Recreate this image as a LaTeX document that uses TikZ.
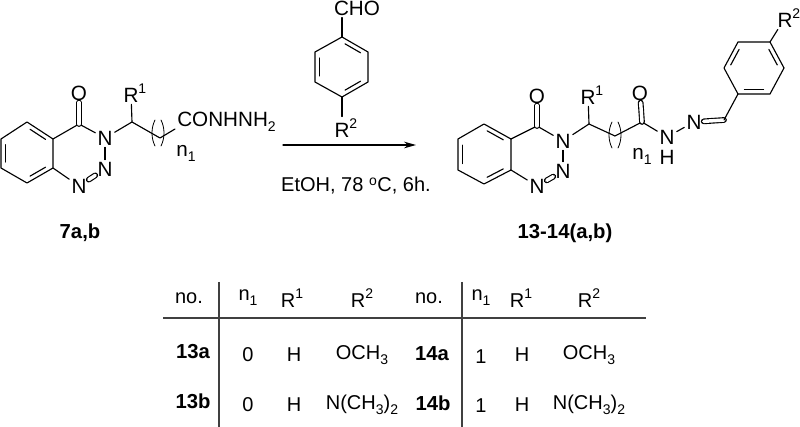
\documentclass[tikz,border=0pt]{standalone}
\usepackage{fontspec}
\setmainfont{Liberation Sans}
\usetikzlibrary{calc,arrows.meta}
\newcommand{\innerbond}[3]{\draw[bond] ($(#1)!.14!(#2)!.17!(#3)$) -- ($(#2)!.14!(#1)!.17!(#3)$);}
\newcommand{\supr}[1]{\raisebox{.42em}{\fontsize{10.5}{10.5}\selectfont #1}}
\newcommand{\subr}[1]{\raisebox{-.24em}{\fontsize{10.5}{10.5}\selectfont #1}}
\begin{document}
\begin{tikzpicture}[x=0.75pt,y=-0.75pt]
    \tikzset{bond/.style={line width=0.85pt,line cap=round,line join=round}}
    \tikzset{dbond/.style={bond,double,double distance=2.6pt}}
    \tikzset{atom/.style={font=\fontsize{15.5}{15.5}\selectfont,inner sep=1.5pt}}
    \tikzset{cell/.style={font=\fontsize{15}{15}\selectfont,inner sep=0pt}}
    \tikzset{cellb/.style={cell,font=\fontsize{15.2}{15.2}\selectfont\bfseries}}
    \tikzset{rule/.style={line width=0.85pt,draw=black!75}}
    \tikzset{repeatunit/.pic={
        \draw[bond,line width=0.6pt] (-3,-13) .. controls (-7,-5) and (-7,5) .. (-3,13);
        \draw[bond,line width=0.6pt] (3,-13) .. controls (7,-5) and (7,5) .. (3,13);}}
    \useasboundingbox (0,0) rectangle (800,427);

    % starting hydrazide
    \foreach \n/\x/\y in {a1/27/122,a2/53/139,a3/53/168,a4/27/183,a5/1/168,a6/1/139,c1/79/124,c2/132/122,c3/160/138,c4/175/129}
    \coordinate (\n) at (\x,\y);
    \node[atom] (o1) at (79,93) {O};
    \node[atom] (n3) at (105,138) {N};
    \node[atom] (n2) at (105,169) {N};
    \node[atom] (n1) at (79,186) {N};
    \node[atom] (r1) at (131,93) {R\rlap{\supr{1}}};
    \node[atom,anchor=west,inner sep=0pt] (hyd) at (177,122) {CONHNH\subr{2}};
    \node[atom] (sub1) at (186,153) {n\subr{1}};
    \draw[bond] (a1) -- (a2) -- (a3) -- (a4) -- (a5) -- (a6) -- cycle;
    \coordinate (ac) at (27,153);
    \innerbond{a1}{a2}{ac}
    \innerbond{a3}{a4}{ac}
    \innerbond{a5}{a6}{ac}
    \draw[bond] (a2) -- (c1) -- (n3);
    \draw[dbond] (c1) -- (o1);
    \draw[bond] (n3) -- (n2);
    \draw[dbond] (n2) -- (n1);
    \draw[bond] (n1) -- (a3);
    \draw[bond] (n3) -- (c2) -- (r1);
    \draw[bond] (c2) -- (c3) -- (c4);
    \pic at (158,133) {repeatunit};
    \node[cellb] (lab7) at (80,233) {7a,b};

    % aldehyde over the arrow
    \foreach \n/\x/\y in {b1/342/37,b2/368/52,b3/368/82,b4/342/97,b5/315/82,b6/315/52}
    \coordinate (\n) at (\x,\y);
    \coordinate (bc) at (342,67);
    \node[atom] (cho) at (357,8) {CHO};
    \node[atom] (r2a) at (342,128) {R\rlap{\supr{2}}};
    \draw[bond] (b1) -- (b2) -- (b3) -- (b4) -- (b5) -- (b6) -- cycle;
    \innerbond{b1}{b2}{bc}
    \innerbond{b3}{b4}{bc}
    \innerbond{b5}{b6}{bc}
    \draw[bond] (b1) -- (b1 |- cho.south);
    \draw[bond] (b4) -- (r2a);
    \coordinate (arrow-in) at (283,145);
    \coordinate (arrow-out) at (416,145);
    \draw[bond,-{Stealth[length=9pt,width=5pt]}] (arrow-in) -- (arrow-out);
    \node[atom,font=\fontsize{15}{15}\selectfont] (cond) at (356,186) {EtOH, 78 \textsuperscript{o}C, 6h.};

    % product
    \foreach \n/\x/\y in {d1/484/124,d2/511/139,d3/511/170,d4/484/184,d5/458/170,d6/458/139,e1/537/126,e2/589/124,e3/615/136,e4/642/122,e5/724/120,f1/738/94,f2/770/94,f3/784/68,f4/770/42,f5/738/42,f6/724/68}
    \coordinate (\n) at (\x,\y);
    \coordinate (dc) at (484,154);
    \coordinate (fc) at (754,68);
    \node[atom] (o2) at (537,96) {O};
    \node[atom] (n6) at (563,141) {N};
    \node[atom] (n5) at (563,171) {N};
    \node[atom] (n4) at (537,186) {N};
    \node[atom] (r1b) at (588,95) {R\rlap{\supr{1}}};
    \node[atom] (o3) at (640,93) {O};
    \node[atom] (n7) at (667,137) {N};
    \node[atom] (h7) at (667,157) {H};
    \node[atom] (n8) at (694,122) {N};
    \node[atom] (r2b) at (785,18) {R\rlap{\supr{2}}};
    \node[atom] (sub2) at (642,156) {n\subr{1}};
    \draw[bond] (d1) -- (d2) -- (d3) -- (d4) -- (d5) -- (d6) -- cycle;
    \innerbond{d1}{d2}{dc}
    \innerbond{d3}{d4}{dc}
    \innerbond{d5}{d6}{dc}
    \draw[bond] (d2) -- (e1) -- (n6);
    \draw[dbond] (e1) -- (o2);
    \draw[bond] (n6) -- (n5);
    \draw[dbond] (n5) -- (n4);
    \draw[bond] (n4) -- (d3);
    \draw[bond] (n6) -- (e2) -- (r1b);
    \draw[bond] (e2) -- (e3) -- (e4) -- (n7);
    \draw[dbond] (e4) -- (o3);
    \draw[bond] (n7) -- (n8);
    \draw[dbond] (n8) -- (e5);
    \draw[bond] (e5) -- (f1);
    \draw[bond] (f1) -- (f2) -- (f3) -- (f4) -- (f5) -- (f6) -- cycle;
    \innerbond{f1}{f2}{fc}
    \innerbond{f3}{f4}{fc}
    \innerbond{f5}{f6}{fc}
    \draw[bond] (f4) -- (r2b);
    \pic at (615,135) {repeatunit};
    \node[cellb] (lab13) at (565,233) {13-14(a,b)};

    % table
    \foreach \n/\x/\t in {h1/189/no.,h2/248/n\subr{1},h3/292/R\supr{1},h4/362/R\supr{2},h5/429/no.,h6/481/n\subr{1},h7b/521/R\supr{1},h8/589/R\supr{2}}
    \node[cell] (\n) at (\x,298) {\t};
    \foreach \x/\t in {248/0,294/H,362/OCH\subr{3},522/H,589/OCH\subr{3}}
    \node[cell] at (\x,355) {\t};
    \foreach \x/\t in {248/0,294/H,362/N(CH\subr{3})\subr{2},522/H,589/N(CH\subr{3})\subr{2}}
    \node[cell] at (\x,405) {\t};
    \node[cell] at (481,357) {1};
    \node[cell] at (481,406) {1};
    \node[cellb] (r13a) at (193,352) {13a};
    \node[cellb] (r13b) at (193,401) {13b};
    \node[cellb] (r14a) at (432,354) {14a};
    \node[cellb] (r14b) at (433,403) {14b};
    \coordinate (rule-w) at (163,318);
    \coordinate (rule-e) at (646,318);
    \coordinate (sep1-t) at (219,282);
    \coordinate (sep1-b) at (219,427);
    \coordinate (sep2-t) at (462,282);
    \coordinate (sep2-b) at (462,427);
    \draw[rule] (rule-w) -- (rule-e);
    \draw[rule] (sep1-t) -- (sep1-b);
    \draw[rule] (sep2-t) -- (sep2-b);
\end{tikzpicture}
\end{document}
